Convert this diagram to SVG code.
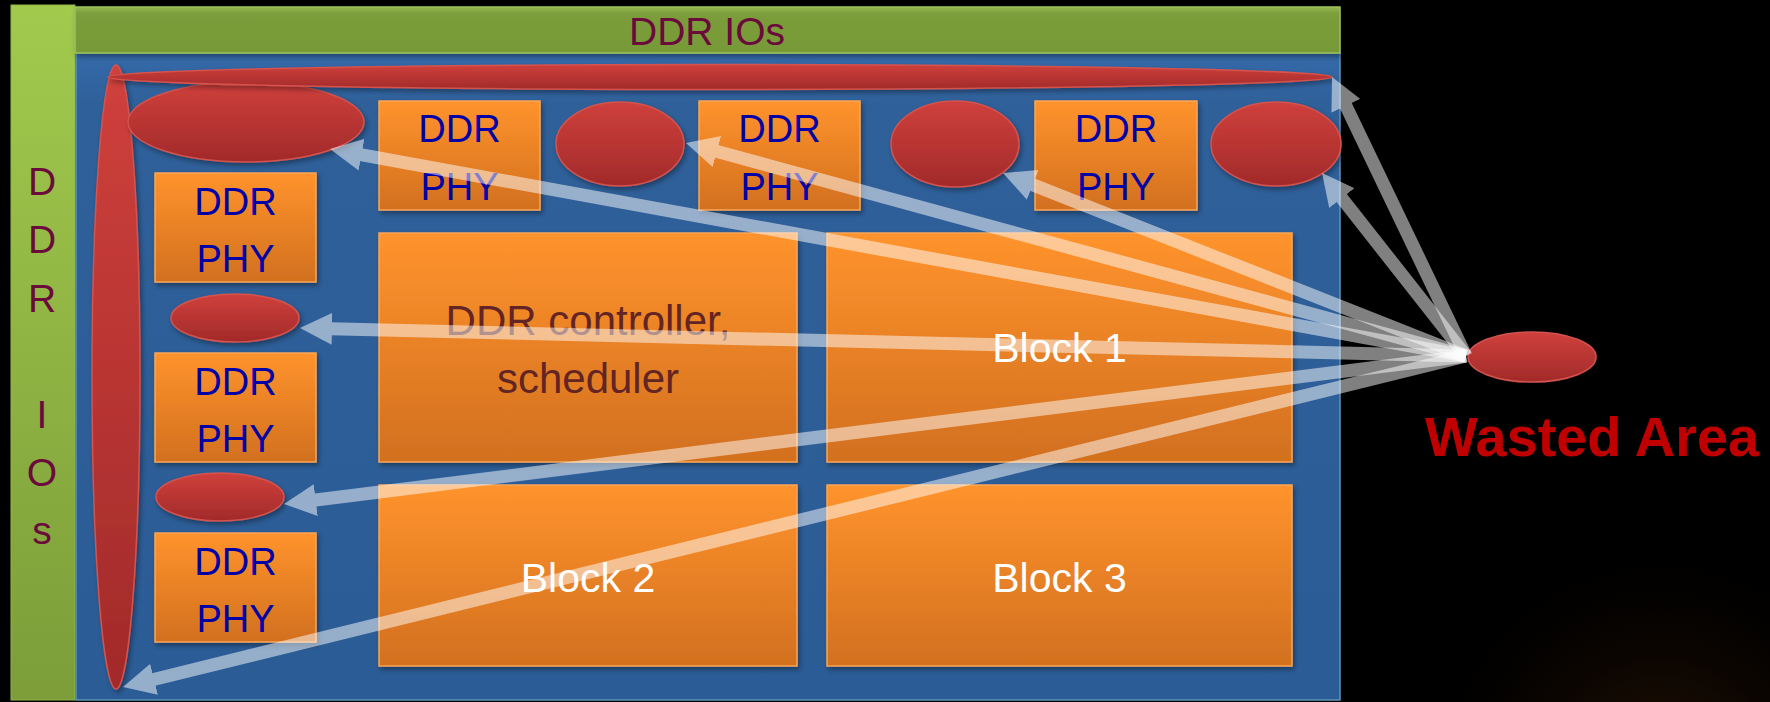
<svg xmlns="http://www.w3.org/2000/svg" width="1770" height="702" viewBox="0 0 1770 702">
  <defs>
    <linearGradient id="gLeft" x1="0" y1="0" x2="0" y2="1">
      <stop offset="0" stop-color="#a2ca4d"/>
      <stop offset="1" stop-color="#7c9d39"/>
    </linearGradient>
    <linearGradient id="gTop" x1="0" y1="0" x2="0" y2="1">
      <stop offset="0" stop-color="#93b750"/>
      <stop offset="0.15" stop-color="#7b9d3a"/>
      <stop offset="1" stop-color="#779938"/>
    </linearGradient>
    <linearGradient id="gBlue" x1="0" y1="0" x2="0" y2="1">
      <stop offset="0" stop-color="#3569aa"/>
      <stop offset="0.08" stop-color="#2f6099"/>
      <stop offset="1" stop-color="#2b5c96"/>
    </linearGradient>
    <linearGradient id="gOrange" x1="0" y1="0" x2="0" y2="1">
      <stop offset="0" stop-color="#ff932d"/>
      <stop offset="1" stop-color="#d2701f"/>
    </linearGradient>
    <linearGradient id="gRed" x1="0" y1="0" x2="0" y2="1">
      <stop offset="0" stop-color="#cf403c"/>
      <stop offset="1" stop-color="#a22a2a"/>
    </linearGradient>
    <radialGradient id="gGlow" cx="1660" cy="780" r="260" gradientUnits="userSpaceOnUse">
      <stop offset="0" stop-color="#2a1404"/>
      <stop offset="1" stop-color="#000000" stop-opacity="0"/>
    </radialGradient>
    <filter id="shadow" x="-10%" y="-10%" width="130%" height="140%">
      <feDropShadow dx="2" dy="3" stdDeviation="2.5" flood-color="#000" flood-opacity="0.35"/>
    </filter>
    <marker id="head" viewBox="0 0 32 32" refX="12" refY="16" markerWidth="32" markerHeight="32" markerUnits="userSpaceOnUse" orient="auto">
      <path d="M0,0 L32,16 L0,32 Z" fill="#ffffff"/>
    </marker>
  </defs>
  <style>
    .box { fill: url(#gOrange); stroke: #f8a65a; stroke-width: 1.5; filter: url(#shadow); }
    .blob { fill: url(#gRed); stroke: #d4534e; stroke-width: 1.5; filter: url(#shadow); }
    .phy { font-family: "Liberation Sans", Arial, sans-serif; font-size: 38px; fill: #0000a6; text-anchor: middle; }
    .io { font-family: "Liberation Sans", Arial, sans-serif; font-size: 39px; fill: #6a0b3c; text-anchor: middle; }
    .blk { font-family: "Liberation Sans", Arial, sans-serif; font-size: 41px; fill: #ffffff; text-anchor: middle; }
    .ctl { font-family: "Liberation Sans", Arial, sans-serif; font-size: 42px; fill: #632523; text-anchor: middle; }
    .arrow { opacity: 0.5; }
    .arrow line { stroke: #ffffff; stroke-width: 13; marker-end: url(#head); }
  </style>

  <!-- background -->
  <rect x="0" y="0" width="1770" height="702" fill="#000000"/>
  <rect x="1300" y="450" width="470" height="252" fill="url(#gGlow)"/>

  <!-- die frame: IO rings and core area -->
  <g id="io-left">
    <rect x="11" y="5" width="64" height="695" fill="url(#gLeft)" stroke="#8fb84a" stroke-width="1"/>
    <text class="io" x="42" y="195">D</text>
    <text class="io" x="42" y="253">D</text>
    <text class="io" x="42" y="312">R</text>
    <text class="io" x="42" y="428">I</text>
    <text class="io" x="42" y="486">O</text>
    <text class="io" x="42" y="544">s</text>
  </g>
  <g id="core">
    <rect x="76" y="53" width="1264" height="647" fill="url(#gBlue)" stroke="#5f95b8" stroke-width="1.5"/>
  </g>
  <g id="io-top">
    <rect x="75" y="7" width="1265" height="46" fill="url(#gTop)" stroke="#9cc25a" stroke-width="1.5" filter="url(#shadow)"/>
    <text class="io" x="707" y="45">DDR IOs</text>
  </g>

  <!-- DDR PHY blocks along the top edge -->
  <g id="phy-top-1">
    <rect class="box" x="379" y="101" width="161" height="109"/>
    <text class="phy" x="459.5" y="142">DDR</text>
    <text class="phy" x="459.5" y="200">PHY</text>
  </g>
  <g id="phy-top-2">
    <rect class="box" x="699" y="101" width="161" height="109"/>
    <text class="phy" x="779.5" y="142">DDR</text>
    <text class="phy" x="779.5" y="200">PHY</text>
  </g>
  <g id="phy-top-3">
    <rect class="box" x="1035" y="101" width="162" height="109"/>
    <text class="phy" x="1116" y="142">DDR</text>
    <text class="phy" x="1116" y="200">PHY</text>
  </g>

  <!-- DDR PHY blocks along the left edge -->
  <g id="phy-left-1">
    <rect class="box" x="155" y="173" width="161" height="109"/>
    <text class="phy" x="235.5" y="215">DDR</text>
    <text class="phy" x="235.5" y="272">PHY</text>
  </g>
  <g id="phy-left-2">
    <rect class="box" x="155" y="353" width="161" height="109"/>
    <text class="phy" x="235.5" y="395">DDR</text>
    <text class="phy" x="235.5" y="452">PHY</text>
  </g>
  <g id="phy-left-3">
    <rect class="box" x="155" y="533" width="161" height="109"/>
    <text class="phy" x="235.5" y="575">DDR</text>
    <text class="phy" x="235.5" y="632">PHY</text>
  </g>

  <!-- logic blocks -->
  <g id="controller">
    <rect class="box" x="379" y="233" width="418" height="229"/>
    <text class="ctl" x="588" y="335">DDR controller,</text>
    <text class="ctl" x="588" y="393">scheduler</text>
  </g>
  <g id="block1">
    <rect class="box" x="827" y="233" width="465" height="229"/>
    <text class="blk" x="1059.5" y="362">Block 1</text>
  </g>
  <g id="block2">
    <rect class="box" x="379" y="485" width="418" height="181"/>
    <text class="blk" x="588" y="592">Block 2</text>
  </g>
  <g id="block3">
    <rect class="box" x="827" y="485" width="465" height="181"/>
    <text class="blk" x="1059.5" y="592">Block 3</text>
  </g>

  <!-- unused area shapes -->
  <g id="gap-left-strip">
    <ellipse class="blob" cx="116" cy="377" rx="24" ry="312"/>
  </g>
  <g id="gap-corner">
    <ellipse class="blob" cx="246" cy="122" rx="118" ry="40"/>
  </g>
  <g id="gap-top-strip">
    <ellipse class="blob" cx="720" cy="77" rx="612" ry="12.5"/>
  </g>
  <g id="gap-top-1">
    <ellipse class="blob" cx="620" cy="144" rx="64" ry="42"/>
  </g>
  <g id="gap-top-2">
    <ellipse class="blob" cx="955" cy="144" rx="64" ry="43"/>
  </g>
  <g id="gap-top-3">
    <ellipse class="blob" cx="1276" cy="144" rx="65" ry="42"/>
  </g>
  <g id="gap-left-1">
    <ellipse class="blob" cx="235" cy="318" rx="64" ry="24"/>
  </g>
  <g id="gap-left-2">
    <ellipse class="blob" cx="220" cy="497" rx="64" ry="24"/>
  </g>

  <!-- legend -->
  <g id="wasted-area">
    <ellipse class="blob" cx="1532" cy="357" rx="64" ry="25"/>
    <text x="1425" y="456" font-family="'Liberation Sans', Arial, sans-serif" font-size="56" font-weight="bold" fill="#c00000" textLength="334" lengthAdjust="spacingAndGlyphs">Wasted Area</text>
  </g>

  <!-- pointers from the legend to each unused area -->
  <g id="connectors">
    <g class="arrow"><line x1="1466" y1="356" x2="349.7" y2="152.6"/></g>
    <g class="arrow"><line x1="1466" y1="356" x2="705.3" y2="148.3"/></g>
    <g class="arrow"><line x1="1466" y1="356" x2="1021.6" y2="180.4"/></g>
    <g class="arrow"><line x1="1466" y1="356" x2="1334.4" y2="188.7"/></g>
    <g class="arrow"><line x1="1466" y1="356" x2="1340.7" y2="95"/></g>
    <g class="arrow"><line x1="1466" y1="356" x2="320" y2="328.5"/></g>
    <g class="arrow"><line x1="1466" y1="356" x2="303.8" y2="501.5"/></g>
    <g class="arrow"><line x1="1466" y1="356" x2="142.4" y2="682.2"/></g>
  </g>
</svg>
